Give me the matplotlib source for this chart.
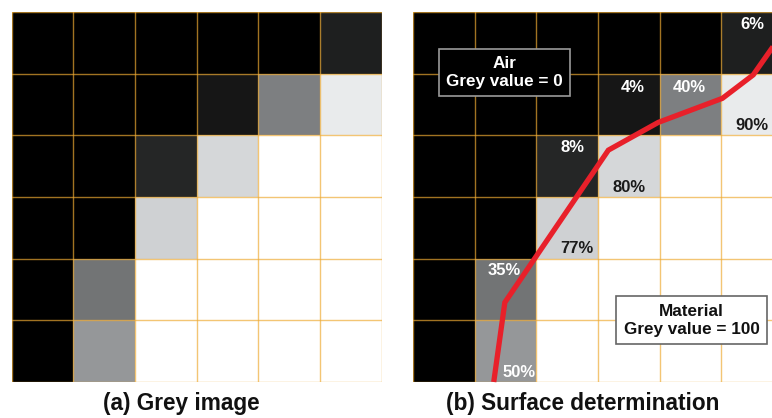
import numpy as np
import matplotlib
matplotlib.use("Agg")
import matplotlib.pyplot as plt
from matplotlib.colors import PowerNorm, LinearSegmentedColormap

plt.rcParams['font.family'] = ['Liberation Sans', 'DejaVu Sans']

# Grey value of each pixel (percent of material), rows listed top to bottom
grey_rows = [
    [0, 0, 0, 0, 0, 6],
    [0, 0, 0, 4, 40, 90],
    [0, 0, 8, 80, 100, 100],
    [0, 0, 77, 100, 100, 100],
    [0, 35, 100, 100, 100, 100],
    [0, 50, 100, 100, 100, 100],
]

# Partial-volume pixels that get a percentage label: (row, col)
labelled_cells = [(0, 5), (1, 3), (1, 4), (1, 5), (2, 2), (2, 3), (3, 2), (4, 1), (5, 1)]

# Determined surface (in pixel units, x = column, y = row from top)
surface_x = [1.31, 1.49, 3.17, 3.98, 5.02, 5.52, 5.85, 6.20]
surface_y = [6.00, 4.71, 2.24, 1.79, 1.40, 1.02, 0.55, 0.05]

panel_titles = ["(a) Grey image", "(b) Surface determination"]
air_text = "Air\nGrey value = 0"
material_text = "Material\nGrey value = 100"

# Label anchor inside each labelled cell (offset from the cell's top-left corner)
label_offsets = [(0.50, 0.20), (0.56, 0.22), (0.48, 0.22), (0.50, 0.84),
                 (0.58, 0.20), (0.50, 0.84), (0.66, 0.83), (0.48, 0.19), (0.72, 0.84)]

grey = np.array(grey_rows, dtype=float)
nrows, ncols = grey.shape

cmap = LinearSegmentedColormap.from_list(
    "pixel_grey", [(0.0, "#000000"), (0.5, "#7d7f81"), (0.9, "#e2e4e6"), (1.0, "#ffffff")])
norm = PowerNorm(gamma=0.75, vmin=0, vmax=100)

fig = plt.figure(figsize=(7.72, 4.18), dpi=100)
W, H = 772, 418
ax_w, ax_h = 369.8 / W, 370 / H
ax_bottom = (H - 382) / H
axes = [fig.add_axes([11.7 / W, ax_bottom, ax_w, ax_h]),
        fig.add_axes([413 / W, ax_bottom, ax_w, ax_h])]

grid_color = "#eeaa33"

for ax, title in zip(axes, panel_titles):
    ax.pcolormesh(np.arange(ncols + 1), np.arange(nrows + 1), grey,
                  cmap=cmap, norm=norm, shading="flat")
    for k in range(ncols + 1):
        ax.axvline(k, color=grid_color, lw=1.0, alpha=0.68, zorder=2)
    for k in range(nrows + 1):
        ax.axhline(k, color=grid_color, lw=1.0, alpha=0.68, zorder=2)
    ax.set_xlim(0, ncols)
    ax.set_ylim(nrows, 0)
    ax.set_aspect("auto")
    ax.axis("off")
    ax.text(0.46, -0.058, title, transform=ax.transAxes, ha="center", va="center",
            fontsize=16.3, fontweight="bold", color="#111111")

ax = axes[1]
for (r, c), (dx, dy) in zip(labelled_cells, label_offsets):
    v = grey[r, c]
    ax.text(c + dx, r + dy, f"{int(v)}%", ha="center", va="center",
            fontsize=12, fontweight="bold",
            color="white" if v <= 50 else "#1a1a1a", zorder=4)

ax.plot(surface_x, surface_y, color="#e8202a", lw=3.8, solid_joinstyle="miter",
        solid_capstyle="butt", zorder=5, clip_on=False)

ax.text(1.49, 0.98, air_text, ha="center", va="center", fontsize=12.3,
        fontweight="bold", color="white", linespacing=1.25, zorder=6,
        bbox=dict(boxstyle="square,pad=0.42", fc="black", ec="#9a9a9a", lw=1.2))
ax.text(4.52, 5.0, material_text, ha="center", va="center", fontsize=12.3,
        fontweight="bold", color="#111111", linespacing=1.2, zorder=6,
        bbox=dict(boxstyle="square,pad=0.45", fc="white", ec="#666666", lw=1.2))

fig.savefig("out.png", dpi=100, facecolor="white")
